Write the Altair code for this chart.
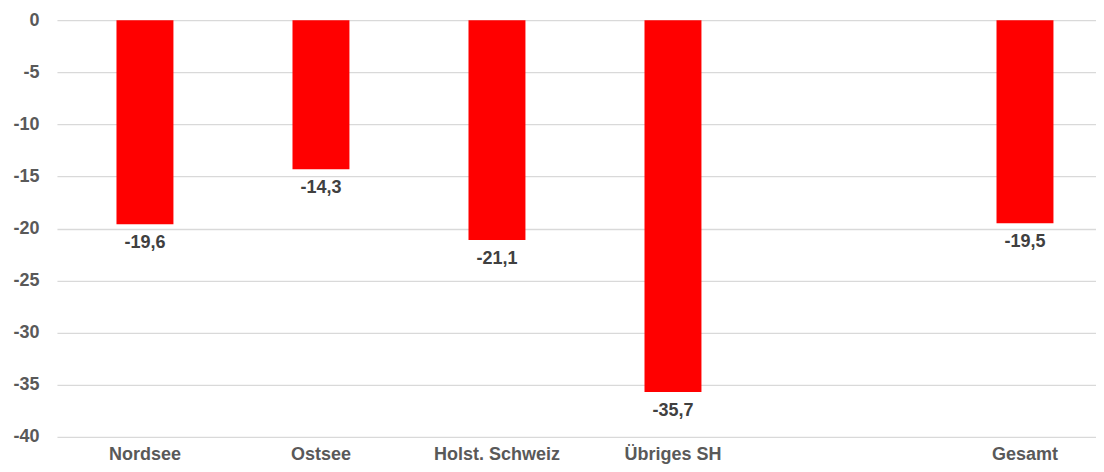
import altair as alt
import pandas as pd

categories = ["Nordsee", "Ostsee", "Holst. Schweiz", "Übriges SH", " ", "Gesamt"]
values = [-19.6, -14.3, -21.1, -35.7, None, -19.5]

rows = []
for c, v in zip(categories, values):
    if v is None:
        continue
    rows.append({"Region": c, "Wert": v, "Label": f"{v:.1f}".replace(".", ",")})
df = pd.DataFrame(rows)

xscale = alt.Scale(domain=categories, range=[0, 1057], paddingInner=0, paddingOuter=0)
x = alt.X("Region:N", scale=xscale, sort=categories,
          axis=alt.Axis(title=None, labelAngle=0, labelFont="Liberation Sans",
                        labelFontWeight="bold", labelFontSize=18, labelColor="#595959",
                        labelPadding=9, ticks=False, domain=False, grid=False))
y = alt.Y("Wert:Q", scale=alt.Scale(domain=[-40, 0], nice=False),
          axis=alt.Axis(title=None, values=list(range(-40, 1, 5)),
                        labelExpr="datum.value == 0 ? '0' : '-' + abs(datum.value)",
                        labelFont="Liberation Sans", labelFontWeight="bold",
                        labelFontSize=18, labelColor="#595959", labelPadding=18,
                        ticks=False, domain=False, grid=True,
                        gridColor="#d9d9d9", gridWidth=1.3))

bars = alt.Chart(df).mark_bar(color="#ff0000", size=57).encode(x=x, y=y)
labels = alt.Chart(df).mark_text(font="Liberation Sans", fontWeight="bold",
                                 fontSize=18, color="#404040", baseline="top",
                                 dy=10).encode(x=x, y=y, text="Label:N")

chart = (bars + labels).properties(
    width=1040, height=417,
    autosize=alt.AutoSizeParams(type="none"),
    padding={"left": 49, "top": 12, "right": 0, "bottom": 27},
).configure_view(stroke=None)

chart.save("out.html", embed_options={"renderer": "svg", "actions": False})
